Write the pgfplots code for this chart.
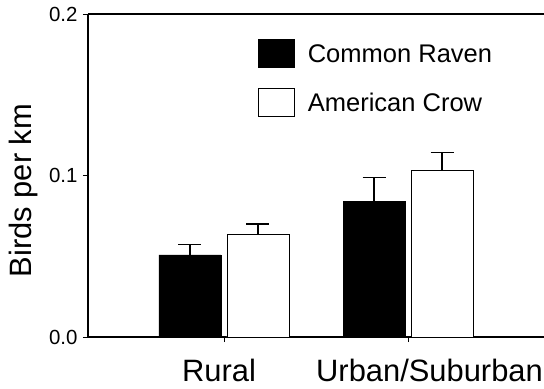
\documentclass[border=0pt]{standalone}
\usepackage{pgfplots}
\pgfplotsset{compat=1.18}
\usepackage{fontspec}
\setmainfont{Liberation Sans}
\begin{document}
\begin{tikzpicture}
\path[use as bounding box] (-88bp,-52bp) rectangle (456bp,337bp);
\begin{axis}[
  at={(0,0)}, anchor=south west,
  scale only axis, width=456bp, height=323bp,
  xmin=-0.739, xmax=1.739, ymin=0, ymax=0.2,
  axis lines=left, axis line style={-, line width=1.1pt},
  xtick={0,1},
  xticklabels={\hspace*{-10bp}Rural, \hspace*{43bp}Urban/Suburban},
  ytick={0,0.1,0.2},
  yticklabels={0.0,0.1,0.2},
  tick style={black, line width=0.9pt},
  major tick length=5bp,
  tick align=outside,
  yticklabel style={font=\fontsize{20.5}{24}\selectfont, xshift=-2bp},
  xticklabel style={font=\fontsize{31}{36}\selectfont, anchor=north, yshift=-14bp},
  ylabel={Birds per km},
  ylabel style={font=\fontsize{31}{36}\selectfont, at={(axis description cs:-0.1404,0.4536)}, anchor=center},
  ybar, bar width=62bp,
  legend style={draw=none, fill=none, at={(axis cs:0.185,0.1845)}, anchor=north west,
    inner sep=0pt, outer sep=0pt,
    font=\fontsize{25.6}{30}\selectfont, row sep=20bp, column sep=13bp,
    nodes={inner sep=0pt, outer sep=0pt, anchor=base west}},
  legend image code/.code={\draw[#1, line width=0.8pt] (0bp,-4.5bp) rectangle (36bp,23.5bp);},
  legend cell align=left,
  error bars/y dir=plus, error bars/y explicit,
  error bars/error bar style={line width=1.4pt, black},
  error bars/error mark options={rotate=90, mark size=11.5bp, line width=1.4pt, black},
]
\addplot[fill=black, draw=black, line width=0.8pt, bar shift=-34bp] coordinates {
  (0,0.0508) +- (0,0.0066)
  (1,0.0840) +- (0,0.0149)
};
\addplot[fill=white, draw=black, line width=0.8pt, bar shift=34bp] coordinates {
  (0,0.0638) +- (0,0.0062)
  (1,0.1034) +- (0,0.0110)
};
\legend{Common Raven, American Crow}
\draw[line width=1.1pt] (rel axis cs:0,1) -- (rel axis cs:1,1);
\end{axis}
\end{tikzpicture}
\end{document}
